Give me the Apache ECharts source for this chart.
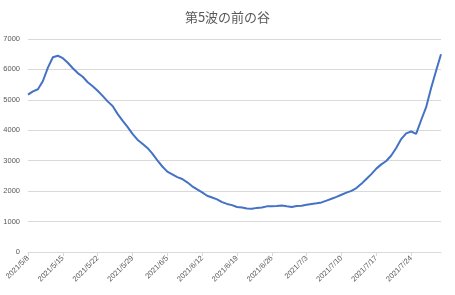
<!DOCTYPE html>
<html><head><meta charset="utf-8">
<script src="https://cdn.jsdelivr.net/npm/echarts@6/dist/echarts.min.js"></script>
<style>html,body{margin:0;padding:0;background:#fff}#c{width:455px;height:295px}</style>
</head><body><div id="c"></div>
<script>
const title = "第5波の前の谷";
const startDate = [2021, 5, 8];
const values = [
5170,5280,5350,5620,6060,6400,6450,6370,6220,6040,
5880,5760,5580,5450,5300,5130,4950,4800,4540,4320,
4110,3880,3690,3560,3420,3230,3010,2810,2640,2550,
2460,2400,2290,2160,2060,1960,1850,1790,1730,1640,
1580,1540,1480,1460,1430,1420,1450,1460,1500,1500,
1510,1530,1500,1480,1510,1520,1550,1580,1600,1630,
1690,1750,1810,1880,1950,2010,2100,2240,2400,2560,
2740,2880,2990,3170,3420,3710,3900,3960,3880,4330,
4750,5380,5950,6500
];
const yTicks = [0,1000,2000,3000,4000,5000,6000,7000];
const categories = values.map((v,i)=>{
  const d = new Date(startDate[0], startDate[1]-1, startDate[2]+i);
  return d.getFullYear()+'/'+(d.getMonth()+1)+'/'+d.getDate();
});
const chart = echarts.init(document.getElementById('c'));
chart.setOption({
  animation:false,
  title:{text:title,left:'center',top:6,textStyle:{fontFamily:'Noto Sans CJK JP',fontSize:13,fontWeight:'normal',color:'#595959'}},
  grid:{left:28,right:14,top:39,bottom:43},
  xAxis:{type:'category',data:categories,boundaryGap:false,
    axisLine:{lineStyle:{color:'#d9d9d9'}},
    axisTick:{show:true,interval:6,length:4,lineStyle:{color:'#d9d9d9'}},
    axisLabel:{interval:6,rotate:45,fontSize:7.5,color:'#595959',fontFamily:'Liberation Sans',margin:5}},
  yAxis:{type:'value',min:yTicks[0],max:yTicks[yTicks.length-1],interval:1000,
    axisLine:{show:false},axisTick:{show:false},
    splitLine:{lineStyle:{color:'#d9d9d9'}},
    axisLabel:{fontSize:7.5,color:'#595959',fontFamily:'Liberation Sans',margin:8,formatter:v=>String(v)}},
  series:[{type:'line',data:values,showSymbol:false,smooth:false,
    lineStyle:{color:'#4472C4',width:2}}]
});
</script></body></html>
